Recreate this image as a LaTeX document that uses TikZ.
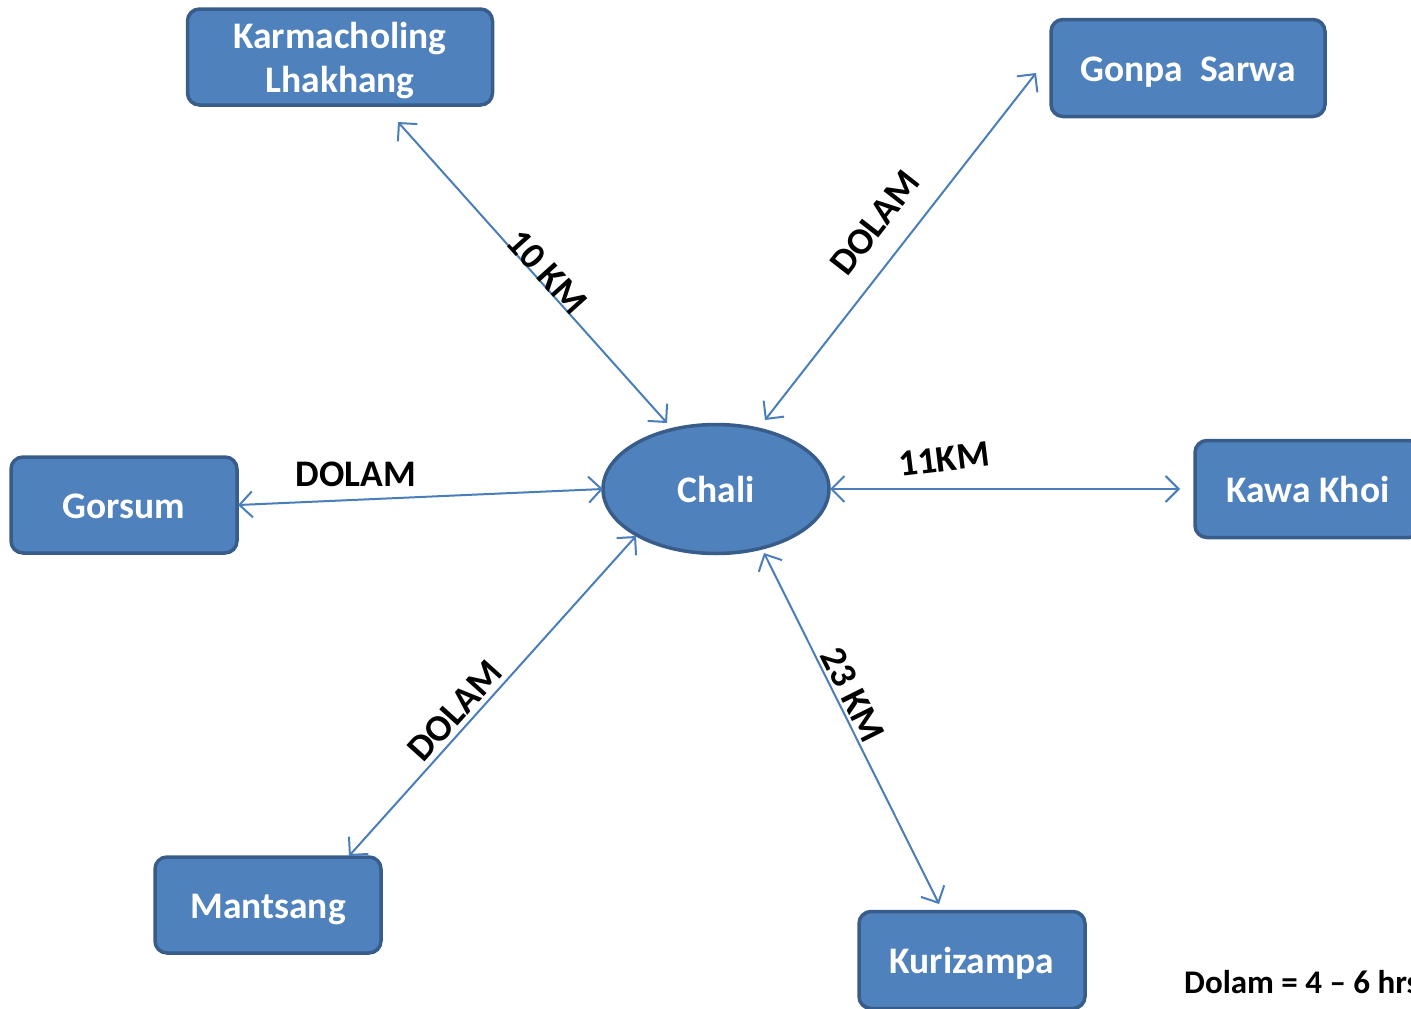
\documentclass[tikz,border=0pt]{standalone}
\usepackage{fontspec}
\setmainfont{Carlito}
\usetikzlibrary{arrows.meta,shapes.geometric}
\definecolor{boxfill}{HTML}{4F81BD}
\definecolor{boxline}{HTML}{385D8A}
\definecolor{linkblue}{HTML}{4A7EBB}
\begin{document}
\begin{tikzpicture}[x=1pt,y=-1pt,
  place/.style={draw=boxline, fill=boxfill, line width=3.5pt, rounded corners=12pt,
    minimum width=226pt, minimum height=96pt, text=white,
    font=\bfseries\fontsize{37.5}{44}\selectfont, align=center, inner sep=0pt},
  oneline/.style={text height=33pt, text depth=7pt},
  hub/.style={ellipse, draw=boxline, fill=boxfill, line width=3.5pt,
    minimum width=226pt, minimum height=129pt, text=white,
    font=\bfseries\fontsize{37.5}{44}\selectfont, inner sep=0pt},
  link/.style={draw=linkblue, line width=2pt,
    {Straight Barb[length=13pt,width=26pt]}-{Straight Barb[length=13pt,width=26pt]}},
  dist/.style={font=\bfseries\fontsize{37.5}{42}\selectfont, text=black, inner sep=0pt}]
\useasboundingbox (0,0) rectangle (1411,1009);
\clip (0,0) rectangle (1411,1009);

% nodes
\node[place, minimum width=305pt] (karma) at (340,57)
  {\rule{0pt}{33pt}Karmacholing\\Lhakhang\rule[-7pt]{0pt}{7pt}};
\node[place, oneline, minimum width=274pt, minimum height=97pt] (gonpa) at (1188,68) {Gonpa\ \ Sarwa};
\node[place, oneline] (gorsum) at (124,505) {Gorsum};
\node[hub, oneline] (chali) at (716,489) {Chali};
\node[place, oneline, minimum height=97pt] (kawa) at (1308,489) {Kawa Khoi};
\node[place, oneline] (mant) at (268,905) {Mantsang};
\node[place, oneline, minimum height=97pt] (kuri) at (972,960) {Kurizampa};

% connector end points
\coordinate (kA) at (398,122);  \coordinate (cA) at (667,423);
\coordinate (gA) at (1036,73);  \coordinate (cB) at (765,420);
\coordinate (sA) at (238,505);  \coordinate (cC) at (603,489);
\coordinate (wA) at (1180,489); \coordinate (cD) at (830,489);
\coordinate (mA) at (349,856);  \coordinate (cE) at (636,536);
\coordinate (zA) at (939,904);  \coordinate (cF) at (764,553);

% connectors
\draw[link] (kA) -- (cA);
\draw[link] (gA) -- (cB);
\draw[link] (sA) -- (cC);
\draw[link] (wA) -- (cD);
\draw[link] (mA) -- (cE);
\draw[link] (zA) -- (cF);

% labels
\node[dist, rotate=-48] (l1) at (547,272) {10 KM};
\node[dist, rotate=52] (l2) at (875,223) {DOLAM};
\node[dist] (l3) at (356,474) {DOLAM};
\node[dist, rotate=7] (l4) at (944,459) {11KM};
\node[dist, rotate=48] (l5) at (455,711) {DOLAM};
\node[dist, rotate=-63.5] (l6) at (853,695) {23 KM};

\node[dist, anchor=west, font=\bfseries\fontsize{33}{40}\selectfont] (legend) at (1184,982) {Dolam = 4 – 6 hrs};
\end{tikzpicture}
\end{document}
